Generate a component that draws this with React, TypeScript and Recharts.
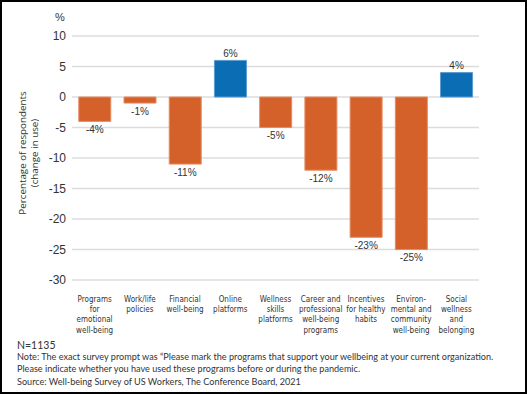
import React from 'react';
import {
  BarChart,
  Bar,
  XAxis,
  YAxis,
  CartesianGrid,
  Cell,
  LabelList
} from 'recharts';

const categories = [
  'Programs\nfor\nemotional\nwell-being',
  'Work/life\npolicies',
  'Financial\nwell-being',
  'Online\nplatforms',
  'Wellness\nskills\nplatforms',
  'Career and\nprofessional\nwell-being\nprograms',
  'Incentives\nfor healthy\nhabits',
  'Environ-\nmental and\ncommunity\nwell-being',
  'Social\nwellness\nand\nbelonging'
];

const changeInUse = [-4, -1, -11, 6, -5, -12, -23, -25, 4];

const yTicks = [-30, -25, -20, -15, -10, -5, 0, 5, 10];

const footerLines = [
  'N=1135',
  'Note: The exact survey prompt was \u201cPlease mark the programs that support your wellbeing at your current organization.',
  'Please indicate whether you have used these programs before or during the pandemic.',
  'Source: Well-being Survey of US Workers, The Conference Board, 2021'
];

const ORANGE = '#D4612A';
const BLUE = '#0B6DB3';
const TEXT = '#333333';

const chartData = categories.map((name, i) => ({ name, value: changeInUse[i] }));

const CategoryTick = ({ x, y, payload }: any) => {
  const lines = String(payload.value).split('\n');
  return (
    <text
      x={x}
      y={y}
      textAnchor="middle"
      fill={TEXT}
      fontSize={8}
      fontFamily="'Liberation Sans Narrow', 'DejaVu Sans Condensed', sans-serif"
    >
      {lines.map((line, i) => (
        <tspan key={i} x={x} dy={i === 0 ? 13.5 : 10.4}>
          {line}
        </tspan>
      ))}
    </text>
  );
};

const renderValueLabel = (props: any) => {
  const { x, y, width, height, value } = props;
  const cx = x + width / 2;
  const neg = value < 0;
  // height is negative for bars below zero in recharts
  const end = neg ? Math.max(y, y + height) : Math.min(y, y + height);
  return (
    <text
      x={cx}
      y={neg ? end + 8 : end - 7}
      textAnchor="middle"
      dominantBaseline="central"
      fill={TEXT}
      fontSize={10}
      fontFamily="'Liberation Sans', Arial, sans-serif"
    >
      {`${value}%`}
    </text>
  );
};

const renderYLabel = ({ viewBox }: any) => {
  const cy = viewBox.y + viewBox.height / 2 - 5;
  return (
    <g fontFamily="'Open Sans', sans-serif" fontSize={9.8} fill={TEXT}>
      <text x={22} y={cy} textAnchor="middle" dominantBaseline="central" transform={`rotate(-90 22 ${cy})`}>
        Percentage of respondents
      </text>
      <text x={34} y={cy} textAnchor="middle" dominantBaseline="central" transform={`rotate(-90 34 ${cy})`}>
        (change in use)
      </text>
      <text x={60} y={17} textAnchor="middle" dominantBaseline="central" fontFamily="'Liberation Sans', Arial, sans-serif" fontSize={11}>
        %
      </text>
    </g>
  );
};

export default function App() {
  return (
    <div
      style={{
        position: 'absolute',
        left: 0,
        top: 0,
        width: 527,
        height: 394,
        boxSizing: 'border-box',
        border: '2px solid #000',
        background: '#fff',
        overflow: 'hidden'
      }}
    >
      <div style={{ position: 'absolute', left: -2, top: -2 }}>
        <BarChart
          width={527}
          height={394}
          data={chartData}
          margin={{ top: 36, right: 48, bottom: 0, left: 0 }}
          barCategoryGap="15%"
        >
          <CartesianGrid vertical={false} stroke="#dcdcdc" strokeWidth={1.5} />
          <XAxis
            dataKey="name"
            axisLine={false}
            tickLine={false}
            interval={0}
            height={114}
            tick={<CategoryTick />}
          />
          <YAxis
            width={72}
            domain={[-30, 10]}
            ticks={yTicks}
            interval={0}
            axisLine={false}
            tickLine={false}
            tickSize={0}
            tickMargin={6}
            tick={{ fill: TEXT, fontSize: 12, fontFamily: "'Liberation Sans', Arial, sans-serif" }}
            label={{ content: renderYLabel }}
          />
          <Bar dataKey="value" isAnimationActive={false} strokeWidth={1}>
            {chartData.map((d, i) => (
              <Cell
                key={`cell-${i}`}
                fill={d.value >= 0 ? BLUE : ORANGE}
                stroke={d.value >= 0 ? '#5C9BD0' : '#E58D62'}
              />
            ))}
            <LabelList dataKey="value" content={renderValueLabel} />
          </Bar>
        </BarChart>
      </div>
      {footerLines.map((line, i) => (
        <div
          key={i}
          style={{
            position: 'absolute',
            left: 15,
            top: [336, 348, 360, 373][i],
            fontFamily: 'Lato, sans-serif',
            fontSize: i === 0 ? 10.5 : 9.1,
            color: TEXT,
            whiteSpace: 'nowrap',
            lineHeight: '14px'
          }}
        >
          {line}
        </div>
      ))}
    </div>
  );
}
